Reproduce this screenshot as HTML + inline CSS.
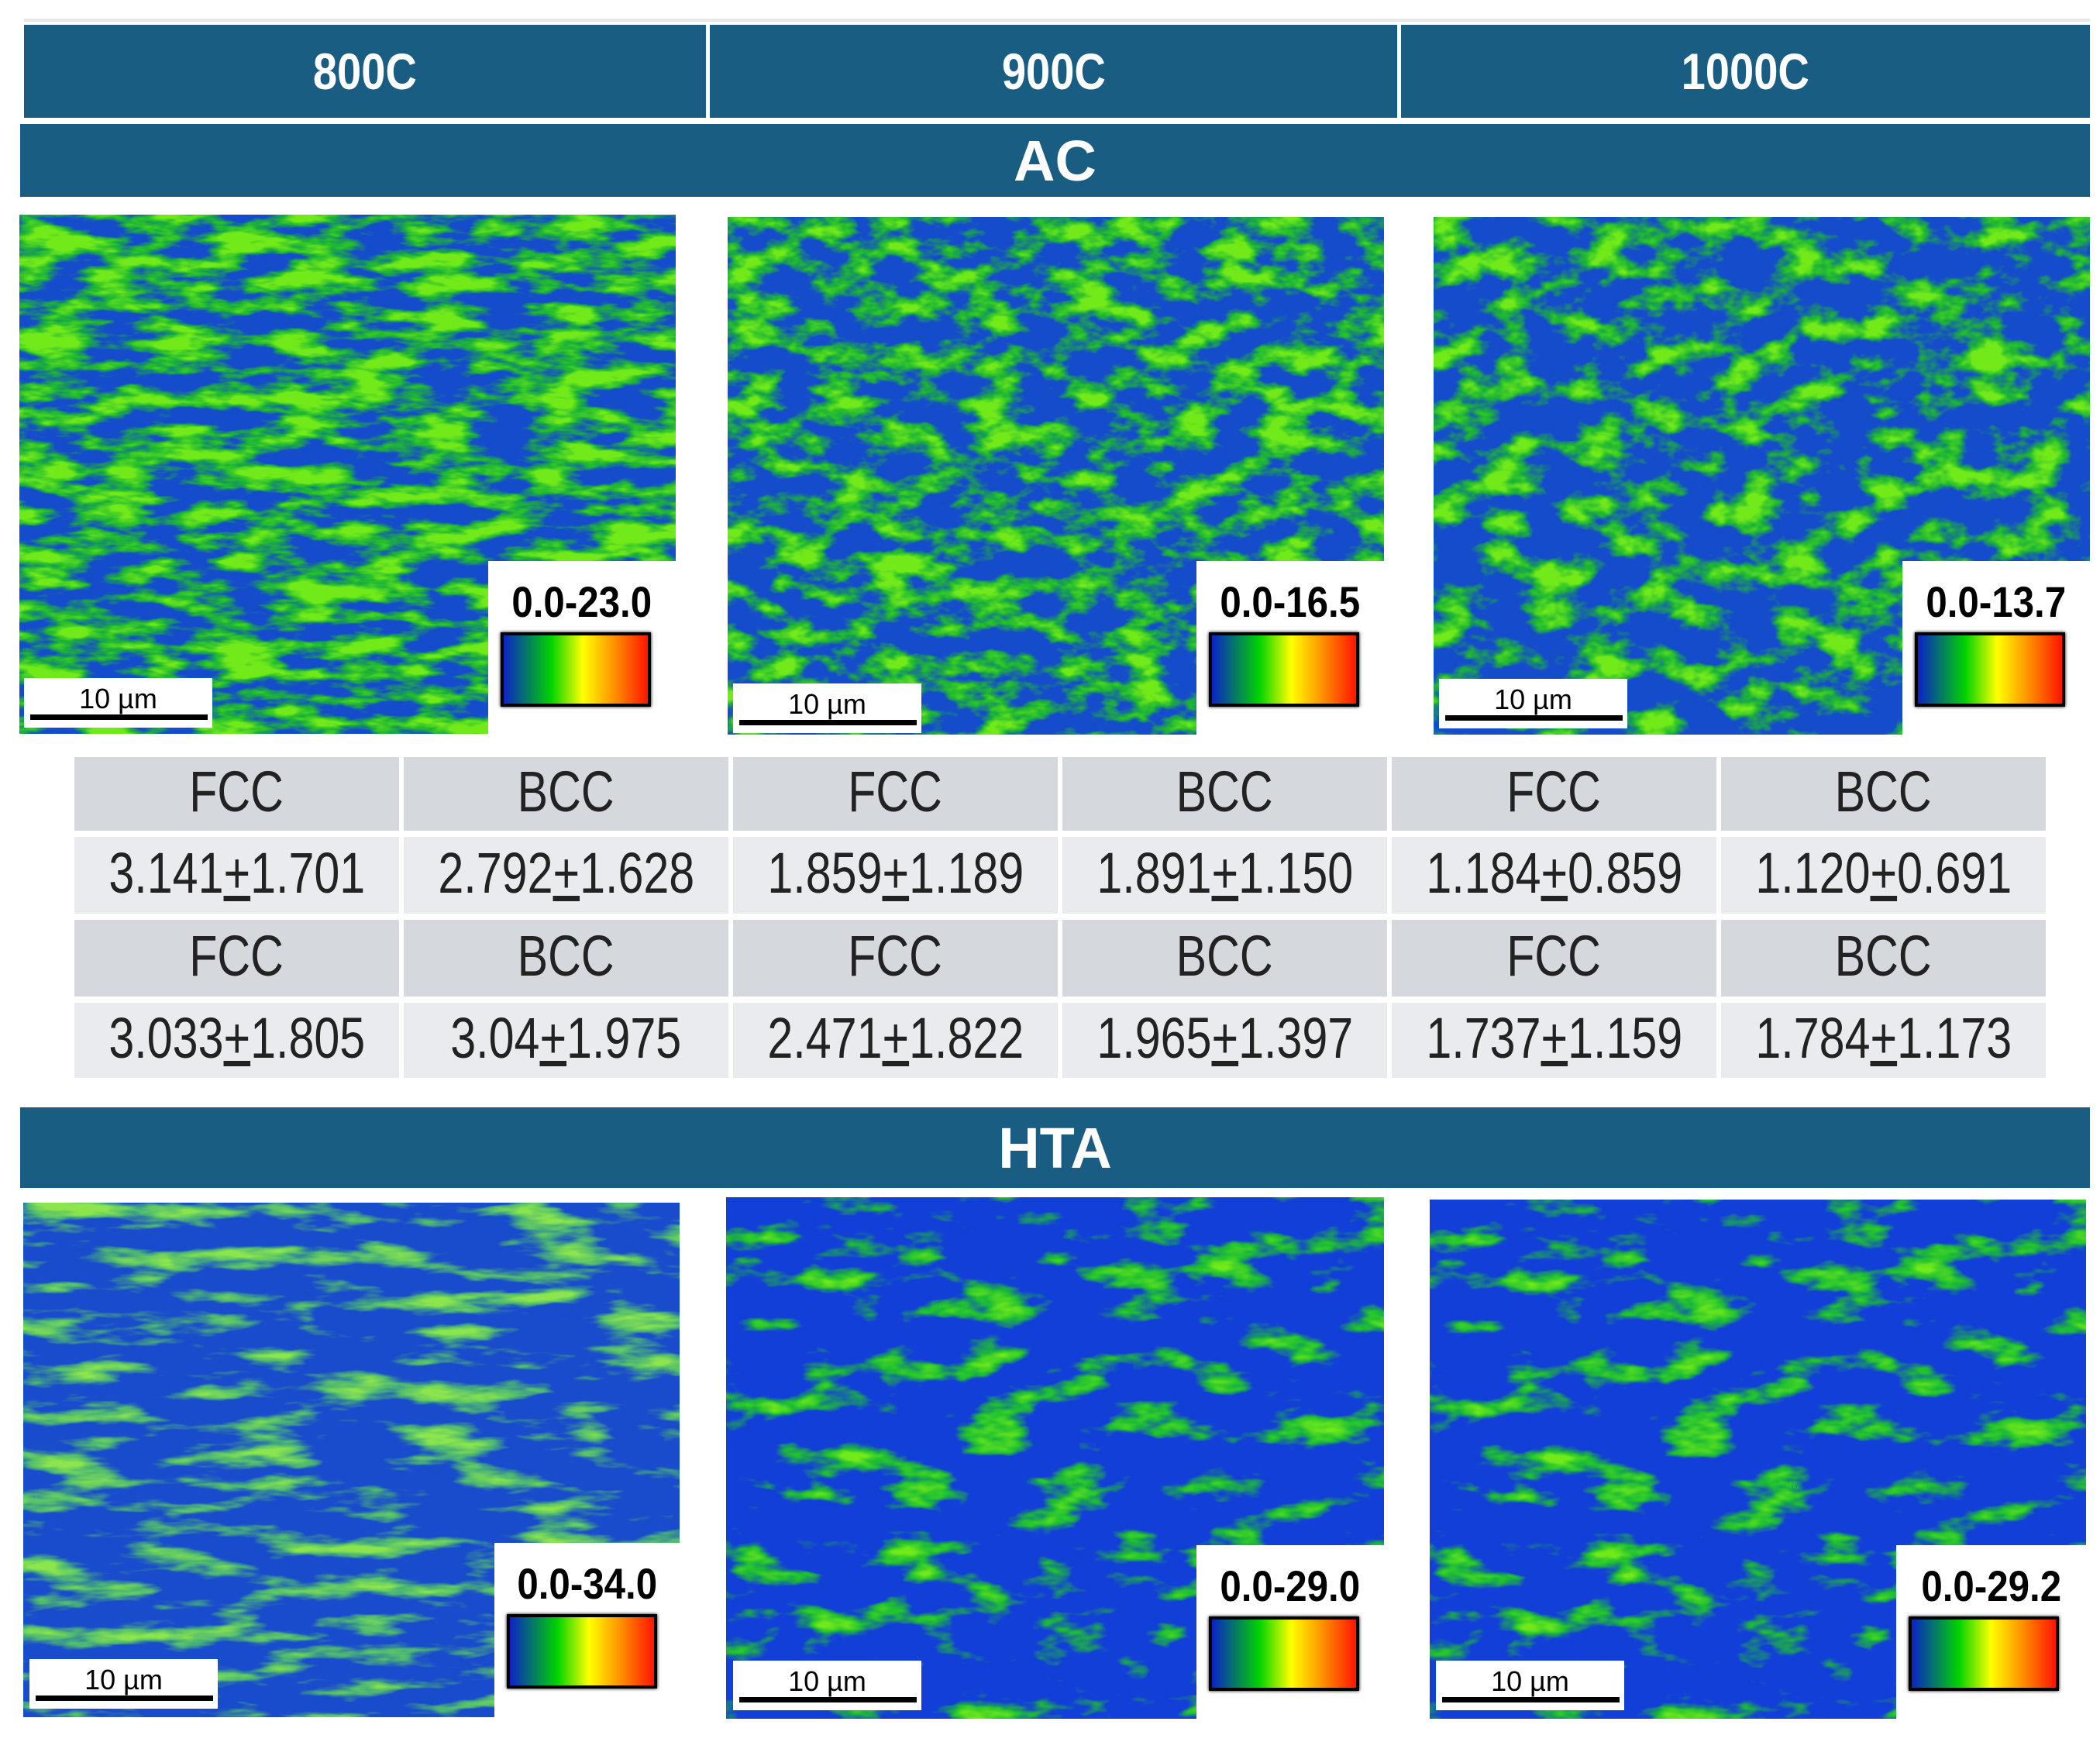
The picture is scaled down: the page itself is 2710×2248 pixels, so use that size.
<!DOCTYPE html>
<html><head><meta charset="utf-8">
<style>
body{margin:0;background:#fff;width:2710px;height:2248px;position:relative;overflow:hidden;font-family:"Liberation Sans",Arial,sans-serif}
.abs{position:absolute}
.hdr{background:#195d82;color:#fff;font-weight:bold;display:flex;align-items:center;justify-content:center}
.cell{position:absolute;display:flex;align-items:center;justify-content:center;color:#222;font-size:74px}
.cell span{display:inline-block;transform:scaleX(0.8)}
.leg{position:absolute;background:#fff}
.leg .t{position:absolute;left:0;width:100%;text-align:center;font-weight:bold;font-size:56px;color:#000;top:20px}
.leg .t span{display:inline-block;transform:scaleX(0.88)}
.leg .bar{position:absolute;left:16px;width:186px;top:92px;height:88px;border:4px solid #000;box-shadow:0 0 4px #000;background:linear-gradient(to right,#0a22c8 0%,#00d400 33%,#ffff00 55%,#ff8a00 78%,#ff1400 100%)}
.sb{position:absolute;background:#fff}
.sb .t{position:absolute;left:0;width:100%;text-align:center;font-size:36px;top:6px;color:#000}
.sb .l{position:absolute;left:8px;right:6px;bottom:10px;height:7px;background:#000}
</style></head><body>
<svg width="0" height="0" style="position:absolute">
<defs>
<filter id="f1" x="0" y="0" width="100%" height="100%" color-interpolation-filters="sRGB">
<feTurbulence type="fractalNoise" baseFrequency="0.012 0.04" numOctaves="4" seed="3"/>
<feColorMatrix values="3.5 0 0 0 -1.4  3.5 0 0 0 -1.4  3.5 0 0 0 -1.4  0 0 0 0 1"/>
<feComponentTransfer><feFuncR type="table" tableValues="0.08 0.12 0.45"/><feFuncG type="table" tableValues="0.3 0.72 0.92"/><feFuncB type="table" tableValues="0.8 0.2 0.1"/></feComponentTransfer>
</filter>
<filter id="f2" x="0" y="0" width="100%" height="100%" color-interpolation-filters="sRGB">
<feTurbulence type="fractalNoise" baseFrequency="0.016 0.03" numOctaves="4" seed="7"/>
<feColorMatrix values="3.5 0 0 0 -1.52  3.5 0 0 0 -1.52  3.5 0 0 0 -1.52  0 0 0 0 1"/>
<feComponentTransfer><feFuncR type="table" tableValues="0.08 0.12 0.45"/><feFuncG type="table" tableValues="0.3 0.72 0.92"/><feFuncB type="table" tableValues="0.8 0.2 0.1"/></feComponentTransfer>
</filter>
<filter id="f3" x="0" y="0" width="100%" height="100%" color-interpolation-filters="sRGB">
<feTurbulence type="fractalNoise" baseFrequency="0.016 0.025" numOctaves="4" seed="11"/>
<feColorMatrix values="3.5 0 0 0 -1.6  3.5 0 0 0 -1.6  3.5 0 0 0 -1.6  0 0 0 0 1"/>
<feComponentTransfer><feFuncR type="table" tableValues="0.08 0.12 0.45"/><feFuncG type="table" tableValues="0.3 0.72 0.92"/><feFuncB type="table" tableValues="0.8 0.2 0.1"/></feComponentTransfer>
</filter>
<filter id="f4" x="0" y="0" width="100%" height="100%" color-interpolation-filters="sRGB">
<feTurbulence type="fractalNoise" baseFrequency="0.008 0.035" numOctaves="4" seed="5"/>
<feColorMatrix values="3.5 0 0 0 -1.75  3.5 0 0 0 -1.75  3.5 0 0 0 -1.75  0 0 0 0 1"/>
<feComponentTransfer><feFuncR type="table" tableValues="0.1 0.3 0.55"/><feFuncG type="table" tableValues="0.3 0.72 0.9"/><feFuncB type="table" tableValues="0.8 0.45 0.3"/></feComponentTransfer>
</filter>
<filter id="f5" x="0" y="0" width="100%" height="100%" color-interpolation-filters="sRGB">
<feTurbulence type="fractalNoise" baseFrequency="0.01 0.025" numOctaves="4" seed="9"/>
<feColorMatrix values="3.5 0 0 0 -1.9  3.5 0 0 0 -1.9  3.5 0 0 0 -1.9  0 0 0 0 1"/>
<feComponentTransfer><feFuncR type="table" tableValues="0.07 0.12 0.45"/><feFuncG type="table" tableValues="0.25 0.75 0.92"/><feFuncB type="table" tableValues="0.85 0.2 0.1"/></feComponentTransfer>
</filter>
</defs></svg>

<div class="abs" style="left:31px;top:24px;width:2666px;height:4px;background:#e6e8ea"></div>
<div class="abs hdr" style="left:31px;top:32px;width:880px;height:120px;font-size:66px"><span style="transform:scaleX(0.85);display:inline-block">800C</span></div>
<div class="abs hdr" style="left:916px;top:32px;width:887px;height:120px;font-size:66px"><span style="transform:scaleX(0.85);display:inline-block">900C</span></div>
<div class="abs hdr" style="left:1808px;top:32px;width:889px;height:120px;font-size:66px"><span style="transform:scaleX(0.85);display:inline-block">1000C</span></div>
<div class="abs hdr" style="left:26px;top:160px;width:2671px;height:94px;font-size:74px">AC</div>
<div class="abs hdr" style="left:26px;top:1429px;width:2671px;height:104px;font-size:74px">HTA</div>

<div id="panels"></div>
<div id="table"></div>

<script>
const panels=[
 {name:'ac-800c',x:25,y:277,w:847,h:670,f:'f1',leg:'0.0-23.0',lx:630,ly:724,sx:31,sy:875},
 {name:'ac-900c',x:939,y:280,w:847,h:668,f:'f2',leg:'0.0-16.5',lx:1544,ly:724,sx:946,sy:882},
 {name:'ac-1000c',x:1850,y:280,w:847,h:668,f:'f3',leg:'0.0-13.7',lx:2455,ly:724,sx:1857,sy:876},
 {name:'hta-800c',x:30,y:1552,w:847,h:664,f:'f4',leg:'0.0-34.0',lx:638,ly:1991,sx:38,sy:2141},
 {name:'hta-900c',x:937,y:1545,w:849,h:673,f:'f5',leg:'0.0-29.0',lx:1544,ly:1994,sx:946,sy:2143},
 {name:'hta-1000c',x:1845,y:1548,w:847,h:670,f:'f5',leg:'0.0-29.2',lx:2447,ly:1994,sx:1853,sy:2143}
];
const P=document.getElementById('panels');
panels.forEach(p=>{
 const d=document.createElement('div');
 d.className='abs';
 d.style.cssText=`left:${p.x}px;top:${p.y}px;width:${p.w}px;height:${p.h}px;overflow:hidden`;
 
 
 d.innerHTML=`<svg width="${p.w}" height="${p.h}"><rect width="${p.w}" height="${p.h}" filter="url(#${p.f})"/></svg>`;
 P.appendChild(d);
 const l=document.createElement('div');
 l.className='leg';
 l.style.cssText=`left:${p.lx}px;top:${p.ly}px;width:${p.x+p.w-p.lx}px;height:${p.y+p.h-p.ly}px`;
 
 
 l.innerHTML=`<div class="t"><span>${p.leg}</span></div><div class="bar"></div>`;
 P.appendChild(l);
 const s=document.createElement('div');
 s.className='sb';
 s.style.cssText=`left:${p.sx}px;top:${p.sy}px;width:243px;height:64px`;
 
 
 s.innerHTML=`<div class="t">10 µm</div><div class="l"></div>`;
 P.appendChild(s);
});
const rows=[
 ['FCC','BCC','FCC','BCC','FCC','BCC'],
 ['3.141<u>+</u>1.701','2.792<u>+</u>1.628','1.859<u>+</u>1.189','1.891<u>+</u>1.150','1.184<u>+</u>0.859','1.120<u>+</u>0.691'],
 ['FCC','BCC','FCC','BCC','FCC','BCC'],
 ['3.033<u>+</u>1.805','3.04<u>+</u>1.975','2.471<u>+</u>1.822','1.965<u>+</u>1.397','1.737<u>+</u>1.159','1.784<u>+</u>1.173']
];
const rowY=[[977,95],[1080,99],[1187,99],[1294,97]];
const T=document.getElementById('table');
rows.forEach((r,i)=>r.forEach((t,j)=>{
 const c=document.createElement('div');
 c.className='cell';
 c.style.cssText=`left:${96+j*425}px;top:${rowY[i][0]}px;width:419px;height:${rowY[i][1]}px;background:${i%2?'#e9ebee':'#d5d8dd'}`;
 
 
 c.innerHTML='<span style="margin-top:-6px">'+t+'</span>';
 T.appendChild(c);
}));
</script>
</body></html>
